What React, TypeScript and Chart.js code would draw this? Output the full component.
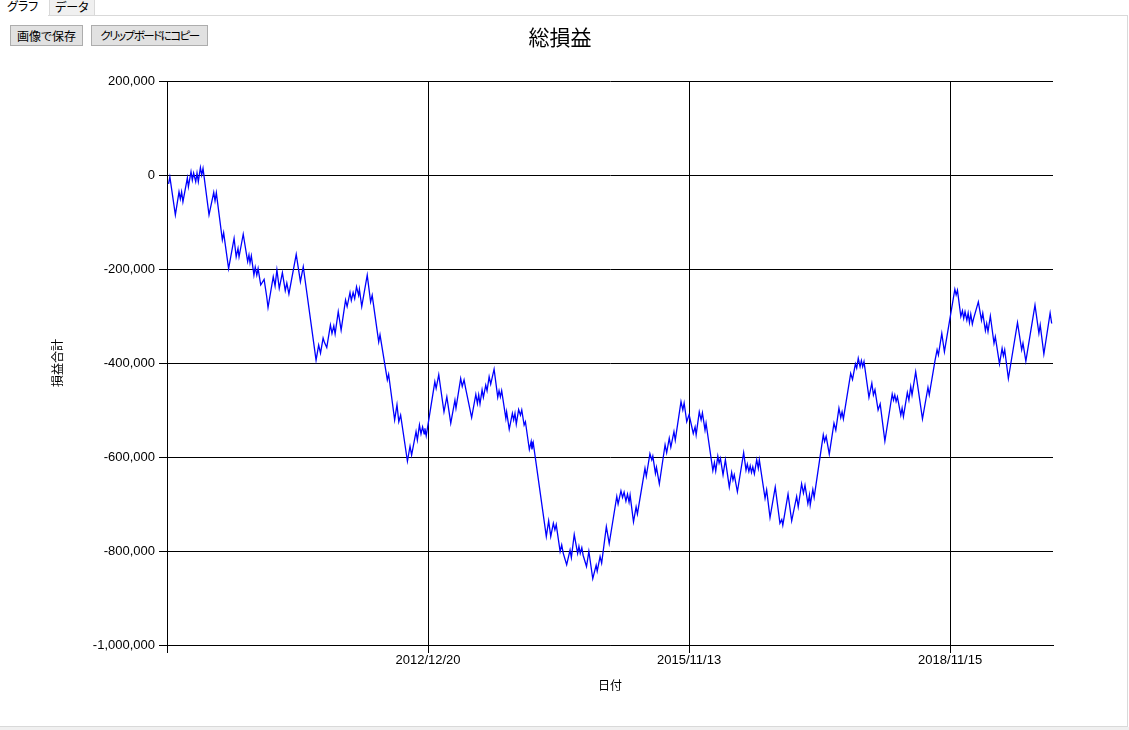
import React, { useEffect, useRef } from 'react';
import { Chart, registerables } from 'chart.js';

Chart.register(...registerables);

// Trade number (x) and cumulative profit/loss in yen (y)
const tradeIndex = [
  0.6, 1.1, 3.2, 4.6, 5.1, 5.6, 6.1, 7.8, 8.2, 9.2, 9.7, 10.2, 11.0, 11.5, 12.0, 12.8, 13.3, 13.8,
  16.1, 17.9, 18.4, 18.9, 21.2, 21.7, 23.6, 25.7, 26.5, 27.2, 27.6, 29.2, 30.9, 31.4, 31.8, 32.3,
  33.3, 33.8, 34.4, 34.9, 35.9, 37.2, 38.2, 38.7, 40.7, 41.4, 42.1, 43.0, 44.2, 45.3, 45.9, 46.7,
  49.5, 51.1, 52.2, 57.1, 58.1, 58.8, 59.8, 60.3, 61.2, 62.6, 63.2, 63.9, 64.4, 65.6, 66.7, 68.4,
  69.0, 70.1, 70.6, 71.3, 71.9, 72.6, 73.4, 73.7, 74.6, 76.7, 78.0, 78.6, 81.1, 81.6, 84.4, 84.9,
  87.2, 88.1, 88.8, 89.5, 92.1, 93.1, 93.7, 95.4, 95.9, 96.7, 97.3, 97.9, 98.5, 98.8, 99.3, 102.6,
  103.1, 104.1, 106.1, 107.2, 108.7, 110.3, 110.7, 112.5, 113.1, 113.8, 114.4, 116.7, 118.3, 118.9,
  119.4, 119.9, 120.7, 121.2, 122.1, 122.6, 123.4, 124.0, 125.3, 126.7, 127.2, 127.7, 128.2, 129.8,
  130.1, 131.1, 132.3, 132.8, 133.3, 133.8, 134.7, 135.4, 135.9, 136.8, 137.3, 138.8, 139.5, 139.8,
  140.3, 145.3, 146.2, 147.0, 148.0, 148.6, 149.1, 150.6, 151.2, 151.8, 153.1, 154.4, 154.9, 156.0,
  157.3, 157.8, 158.3, 158.9, 159.4, 160.7, 161.6, 163.1, 164.4, 164.8, 165.9, 166.5, 168.3, 169.4,
  172.3, 172.8, 173.9, 174.5, 175.1, 175.8, 176.4, 177.0, 177.4, 178.7, 179.7, 180.2, 183.1, 183.6,
  185.0, 185.7, 186.1, 187.1, 187.5, 188.6, 190.8, 191.4, 192.4, 193.0, 194.2, 194.7, 196.9, 197.6,
  198.1, 199.1, 200.0, 201.6, 202.3, 202.7, 203.9, 204.6, 205.1, 206.1, 206.5, 209.1, 209.7, 210.2,
  211.0, 211.5, 212.0, 213.0, 213.9, 215.4, 216.3, 216.8, 217.3, 218.5, 220.9, 221.8, 222.3, 222.9,
  223.4, 223.9, 224.4, 225.0, 225.9, 226.5, 226.9, 229.1, 229.7, 231.0, 233.0, 234.8, 235.5, 235.9,
  237.9, 239.3, 241.2, 241.8, 243.1, 243.8, 244.4, 245.5, 246.1, 246.4, 247.4, 247.9, 251.4, 251.9,
  252.5, 253.7, 255.5, 256.2, 257.4, 258.1, 258.6, 259.1, 261.9, 262.6, 263.7, 264.2, 264.8, 265.5,
  266.0, 266.5, 267.0, 268.9, 270.0, 270.6, 271.2, 272.4, 273.2, 275.0, 277.8, 278.3, 278.8, 279.3,
  279.8, 281.1, 281.6, 282.1, 283.6, 284.2, 284.9, 285.4, 286.8, 289.4, 291.5, 292.0, 294.2, 295.0,
  295.5, 296.8, 297.8, 301.8, 302.3, 302.8, 304.1, 304.7, 305.2, 305.7, 306.4, 306.9, 307.4, 307.9,
  308.5, 309.0, 310.8, 312.0, 312.5, 313.5, 314.0, 314.5, 315.4, 316.8, 317.3, 318.9, 319.9, 320.4,
  320.9, 322.3, 325.8, 327.4, 327.9, 329.0, 332.5, 334.0, 334.5, 335.9, 338.3, 338.9,
];

const totalPnl = [
  -19000, -4000, -85000, -36000, -51000, -36000, -57000, -6000, -25000, 7000, -11000, 4000, -14000, 4000, -14000, 16000, 0, 14000,
  -85000, -37000, -55000, -38000, -138000, -123000, -199000, -135000, -174000, -156000, -174000, -126000, -184000, -170000, -187000, -172000,
  -213000, -196000, -213000, -199000, -234000, -222000, -259000, -282000, -216000, -236000, -202000, -241000, -208000, -246000, -230000, -253000,
  -169000, -227000, -195000, -394000, -362000, -379000, -347000, -356000, -367000, -319000, -337000, -321000, -338000, -291000, -330000, -266000,
  -280000, -250000, -267000, -250000, -263000, -238000, -256000, -243000, -280000, -213000, -270000, -256000, -355000, -340000, -436000, -424000,
  -521000, -489000, -525000, -511000, -609000, -577000, -596000, -546000, -564000, -532000, -551000, -536000, -551000, -539000, -555000, -440000,
  -454000, -425000, -504000, -472000, -528000, -479000, -496000, -433000, -450000, -436000, -454000, -516000, -467000, -486000,
  -468000, -487000, -457000, -473000, -447000, -459000, -429000, -445000, -413000, -473000, -459000, -472000, -459000, -518000,
  -504000, -541000, -507000, -521000, -507000, -530000, -499000, -511000, -500000, -532000, -525000, -584000, -567000, -584000,
  -570000, -769000, -736000, -769000, -741000, -755000, -744000, -801000, -787000, -805000, -829000, -798000, -814000, -765000,
  -805000, -790000, -805000, -793000, -809000, -833000, -801000, -859000, -830000, -843000, -812000, -826000, -748000, -784000,
  -684000, -700000, -672000, -686000, -675000, -694000, -679000, -696000, -681000, -738000, -706000, -721000, -624000, -641000,
  -593000, -606000, -598000, -635000, -622000, -657000, -574000, -591000, -560000, -579000, -546000, -564000, -482000, -500000,
  -485000, -525000, -510000, -550000, -536000, -553000, -504000, -521000, -506000, -543000, -528000, -629000, -612000, -630000,
  -598000, -613000, -603000, -638000, -606000, -664000, -633000, -649000, -638000, -674000, -591000, -628000, -615000, -631000,
  -619000, -633000, -621000, -636000, -606000, -624000, -606000, -688000, -670000, -729000, -664000, -741000, -733000, -745000,
  -679000, -736000, -684000, -706000, -657000, -677000, -660000, -699000, -681000, -702000, -669000, -686000, -553000, -567000,
  -556000, -594000, -528000, -543000, -496000, -516000, -504000, -519000, -422000, -435000, -402000, -411000, -390000, -408000,
  -395000, -408000, -397000, -473000, -443000, -468000, -457000, -500000, -487000, -566000, -466000, -479000, -468000, -482000,
  -472000, -511000, -496000, -514000, -463000, -479000, -450000, -468000, -419000, -519000, -452000, -468000, -395000, -372000,
  -383000, -337000, -376000, -243000, -255000, -245000, -301000, -289000, -305000, -291000, -309000, -294000, -314000, -296000,
  -317000, -305000, -270000, -309000, -294000, -331000, -316000, -333000, -300000, -358000, -344000, -402000, -369000, -385000,
  -372000, -433000, -314000, -372000, -358000, -396000, -277000, -337000, -319000, -381000, -294000, -316000,
];

const xTickPositions = [0, 100, 200, 300];
const xTickLabels = ['', '2012/12/20', '2015/11/13', '2018/11/15'];
const xMaxIndex = 339.4;
const yTickValues = [-1000000, -800000, -600000, -400000, -200000, 0, 200000];
const yMin = -1000000;
const yMax = 200000;

const jpFont = '"Noto Sans CJK JP", "Noto Sans", sans-serif';
const latinFont = '"Liberation Sans", Arial, sans-serif';

export default function App() {
  const canvasRef = useRef<HTMLCanvasElement | null>(null);

  useEffect(() => {
    const canvas = canvasRef.current;
    if (!canvas) return;
    const points = tradeIndex.map((x, i) => ({ x, y: totalPnl[i] }));
    const chart = new Chart(canvas, {
      type: 'line',
      data: {
        datasets: [
          {
            data: points,
            borderColor: '#0000ff',
            borderWidth: 1.3,
            pointRadius: 0,
            tension: 0,
            fill: false,
          },
        ],
      },
      options: {
        responsive: false,
        animation: false,
        devicePixelRatio: 1,
        layout: { padding: { left: 0, top: 81, right: 76, bottom: 25 } },
        plugins: {
          legend: { display: false },
          tooltip: { enabled: false },
          title: { display: false },
        },
        scales: {
          x: {
            type: 'linear',
            min: 0,
            max: xMaxIndex,
            afterBuildTicks: (s: any) => {
              s.ticks = xTickPositions.map((v) => ({ value: v }));
            },
            afterFit: (s: any) => {
              s.height = 60;
            },
            grid: { color: '#000000', lineWidth: 1, tickLength: 8, tickColor: '#000000', drawTicks: true },
            border: { color: '#000000', width: 1 },
            ticks: {
              color: '#000000',
              font: { family: latinFont, size: 13 },
              padding: 0,
              maxRotation: 0,
              autoSkip: false,
              callback: (v: any) => {
                const i = xTickPositions.indexOf(Number(v));
                return i >= 0 ? xTickLabels[i] : '';
              },
            },
            title: {
              display: true,
              text: '日付',
              color: '#000000',
              font: { family: jpFont, size: 12 },
              padding: { top: 0, bottom: 12 },
            },
          },
          y: {
            type: 'linear',
            min: yMin,
            max: yMax,
            afterBuildTicks: (s: any) => {
              s.ticks = yTickValues.map((v) => ({ value: v }));
            },
            afterFit: (s: any) => {
              s.width = 167;
            },
            grid: { color: '#000000', lineWidth: 1, tickLength: 8, tickColor: '#000000', drawTicks: true },
            border: { color: '#000000', width: 1 },
            ticks: {
              color: '#000000',
              font: { family: latinFont, size: 13 },
              padding: 4,
              callback: (v: any) => Number(v).toLocaleString('en-US'),
            },
            title: {
              display: true,
              text: '損益合計',
              color: '#000000',
              font: { family: jpFont, size: 12 },
              padding: { top: 50, bottom: 0 },
            },
          },
        },
      },
    } as any);
    return () => chart.destroy();
  }, []);

  const uiFont: React.CSSProperties = {
    fontFamily: jpFont,
    fontFeatureSettings: '"palt"',
    fontSize: 12,
    color: '#000',
    whiteSpace: 'nowrap',
  };

  return (
    <div
      style={{
        position: 'fixed',
        left: 0,
        top: 0,
        width: 1129,
        height: 730,
        background: '#ffffff',
        overflow: 'hidden',
      }}
    >
      {/* tab page panel */}
      <div
        style={{
          position: 'absolute',
          left: -1,
          top: 15,
          width: 1127,
          height: 710,
          border: '1px solid #d9d9d9',
          background: '#ffffff',
        }}
      />
      <div style={{ position: 'absolute', left: 0, top: 727, width: 1129, height: 3, background: '#f0f0f0' }} />
      {/* tabs */}
      <div
        style={{
          position: 'absolute',
          left: 0,
          top: 0,
          width: 48,
          height: 17,
          background: '#ffffff',
          ...uiFont,
          lineHeight: '12px',
          paddingLeft: 7,
          boxSizing: 'border-box',
        }}
      >
        グラフ
      </div>
      <div
        style={{
          position: 'absolute',
          left: 49,
          top: -1,
          width: 46,
          height: 16,
          background: '#f0f0f0',
          borderLeft: '1px solid #d9d9d9',
          borderRight: '1px solid #d9d9d9',
          borderTop: '1px solid #d9d9d9',
          ...uiFont,
          lineHeight: '13px',
          paddingLeft: 5,
          boxSizing: 'border-box',
        }}
      >
        データ
      </div>

      <canvas
        ref={canvasRef}
        width={1129}
        height={730}
        style={{ position: 'absolute', left: 0, top: 0, width: 1129, height: 730, display: 'block' }}
      />

      {/* buttons */}
      <div
        style={{
          position: 'absolute',
          left: 10,
          top: 25,
          width: 73,
          height: 21,
          background: '#e1e1e1',
          border: '1px solid #adadad',
          boxSizing: 'border-box',
          textAlign: 'center',
          lineHeight: '19px',
          ...uiFont,
        }}
      >
        画像で保存
      </div>
      <div
        style={{
          position: 'absolute',
          left: 91,
          top: 25,
          width: 117,
          height: 21,
          background: '#e1e1e1',
          border: '1px solid #adadad',
          boxSizing: 'border-box',
          textAlign: 'center',
          lineHeight: '19px',
          ...uiFont,
          fontSize: 11.5,
          letterSpacing: -1.5,
          overflow: 'hidden',
        }}
      >
        クリップボードにコピー
      </div>

      {/* chart title */}
      <div
        style={{
          position: 'absolute',
          left: 0,
          top: 26,
          width: 1120,
          textAlign: 'center',
          fontFamily: jpFont,
          fontSize: 21,
          lineHeight: '21px',
          color: '#000',
        }}
      >
        総損益
      </div>
    </div>
  );
}
